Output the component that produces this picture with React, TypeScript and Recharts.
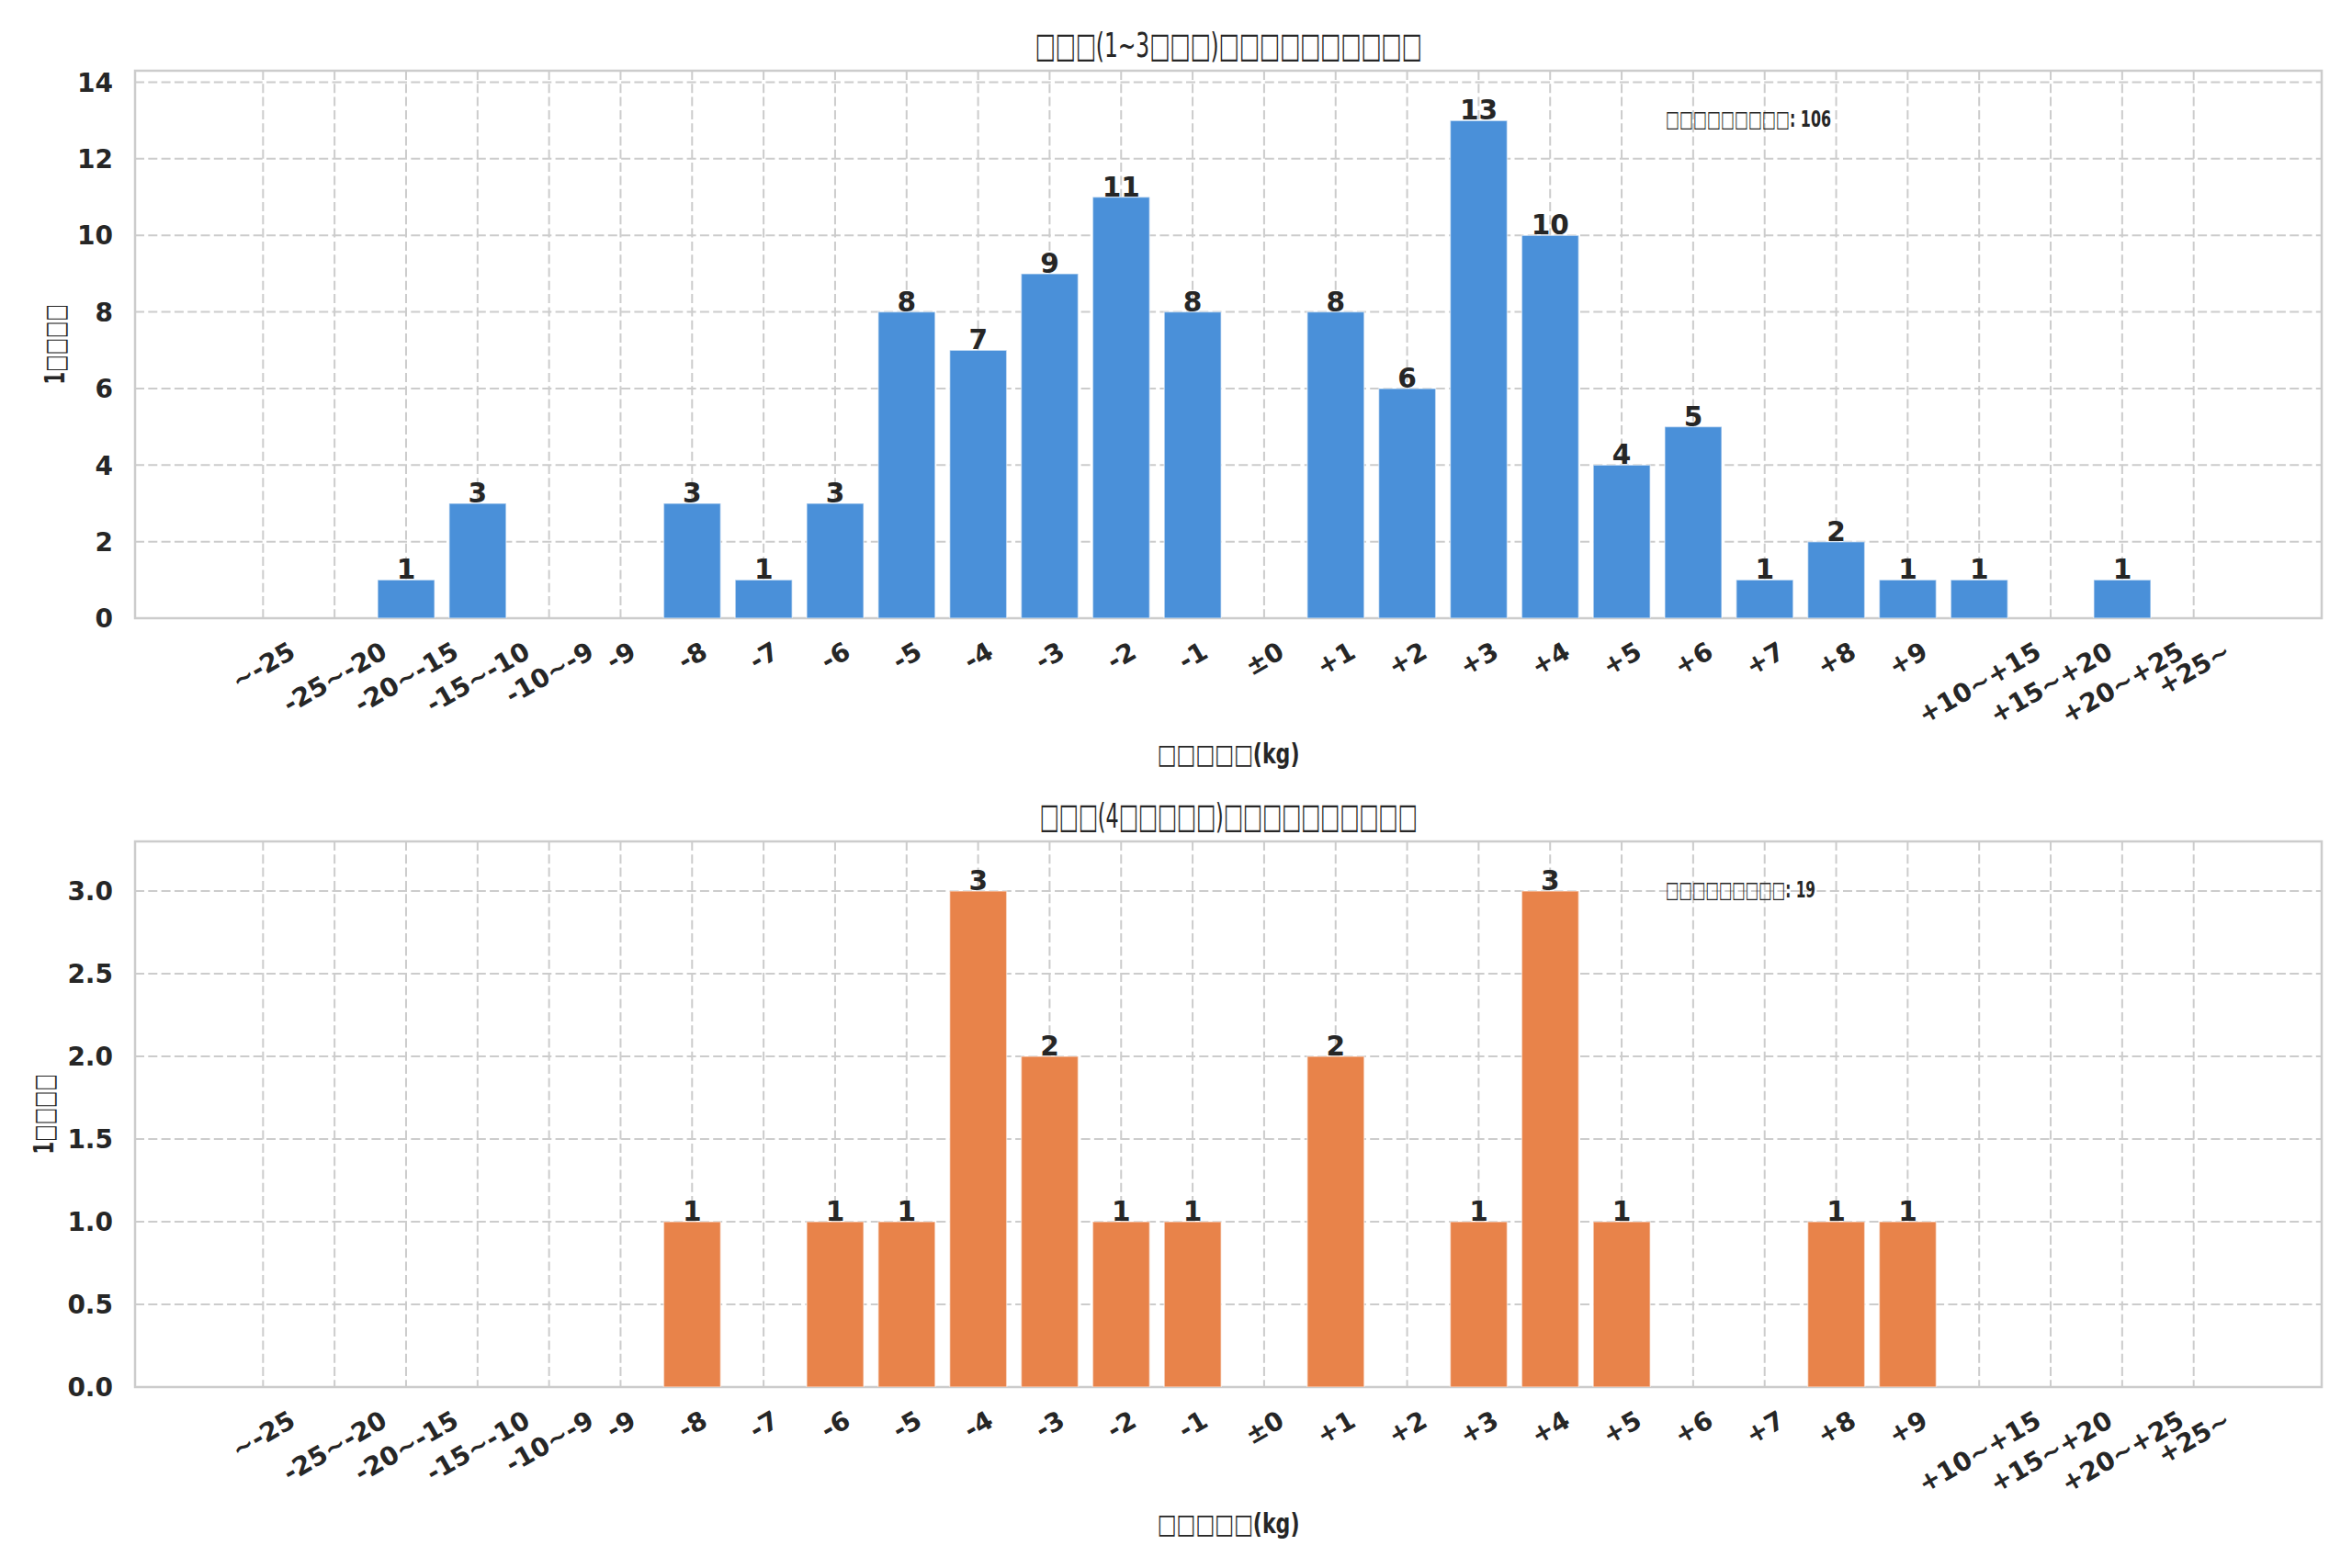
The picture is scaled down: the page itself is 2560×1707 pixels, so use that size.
import React from 'react';
import { BarChart, Bar, XAxis, YAxis, CartesianGrid, LabelList, ReferenceArea } from 'recharts';

const CATEGORIES = [
  '~-25', '-25~-20', '-20~-15', '-15~-10', '-10~-9', '-9', '-8', '-7', '-6', '-5', '-4', '-3', '-2', '-1',
  '±0', '+1', '+2', '+3', '+4', '+5', '+6', '+7', '+8', '+9', '+10~+15', '+15~+20', '+20~+25', '+25~',
];
const SHORT_COUNTS = [0, 0, 1, 3, 0, 0, 3, 1, 3, 8, 7, 9, 11, 8, 0, 8, 6, 13, 10, 4, 5, 1, 2, 1, 1, 0, 1, 0];
const LONG_COUNTS = [0, 0, 0, 0, 0, 0, 1, 0, 1, 1, 3, 2, 1, 1, 0, 2, 0, 1, 3, 1, 0, 0, 1, 1, 0, 0, 0, 0];
const SHORT_Y_TICKS = [0, 2, 4, 6, 8, 10, 12, 14];
const LONG_Y_TICKS = [0, 0.5, 1, 1.5, 2, 2.5, 3];

const TITLE_SHORT = '□□□(1~3□□□)□□□□□□□□□□';
const TITLE_LONG = '□□□(4□□□□□)□□□□□□□□□□';
const X_LABEL = '□□□□□(kg)';
const Y_LABEL = '1□□□□';
const TOTAL_LABEL = '□□□□□□□□□';

const FONT = "'DejaVu Sans', sans-serif";
const TEXT = '#262626';
const GRID = '#cccccc';
const BLUE = '#4a90d9';
const ORANGE = '#e8834a';
const X_DOMAIN: [number, number] = [-1.79, 28.79];
const X_TICKS = CATEGORIES.map((_, i) => i);

const CHAR_EM: Record<string, number> = { '-': 0.415, '~': 0.838, '+': 0.838, '±': 0.838 };
const widthEm = (s: string) => s.split('').reduce((a, c) => a + (CHAR_EM[c] ?? 0.696), 0);

const TICK_F = 28;

const XTick = (props: any) => {
  const { x, y, payload } = props;
  const label = CATEGORIES[payload.value];
  if (label === undefined) return null;
  const w = widthEm(label) * TICK_F;
  const cap = 0.73 * TICK_F;
  const H = w * 0.5 + cap * 0.866;
  const cy = y + 24 + H / 2;
  return (
    <text
      x={x}
      y={cy}
      dy={0.365 * TICK_F}
      transform={`rotate(-30 ${x} ${cy})`}
      textAnchor="middle"
      fontFamily={FONT}
      fontWeight="bold"
      fontSize={TICK_F}
      fill={TEXT}
    >
      {label}
    </text>
  );
};

const makeYTick = (fmt: (v: number) => string) => (props: any) => {
  const { x, y, payload } = props;
  return (
    <text x={x} y={y} dy={0.365 * TICK_F} textAnchor="end" fontFamily={FONT} fontWeight="bold" fontSize={TICK_F} fill={TEXT}>
      {fmt(payload.value)}
    </text>
  );
};

const BarLabel = (props: any) => {
  const { x, y, width, value } = props;
  if (!value) return null;
  return (
    <text x={x + width / 2} y={y - 1} textAnchor="middle" fontFamily={FONT} fontWeight="bold" fontSize={29.6} fill={TEXT}>
      {value}
    </text>
  );
};

type PanelProps = {
  counts: number[];
  color: string;
  yMax: number;
  yTicks: number[];
  yFmt: (v: number) => string;
  top: number;
  height: number;
  marginTop: number;
  plotH: number;
};

const Panel = ({ counts, color, yMax, yTicks, yFmt, top, height, marginTop, plotH }: PanelProps) => {
  const data = counts.map((c, i) => ({ x: i, label: CATEGORIES[i], count: c }));
  const YTick = makeYTick(yFmt);
  return (
    <div style={{ position: 'absolute', left: 0, top, width: 2560, height }}>
      <BarChart width={2560} height={height} data={data} margin={{ top: marginTop, right: 33, bottom: 0, left: 0 }}>
        <CartesianGrid stroke={GRID} strokeWidth={2} strokeDasharray="10 4.3" />
        <XAxis
          dataKey="x"
          type="number"
          domain={X_DOMAIN}
          ticks={X_TICKS}
          interval={0}
          allowDataOverflow
          tick={<XTick />}
          tickLine={false}
          axisLine={false}
          tickSize={0}
          tickMargin={0}
          height={height - marginTop - plotH}
        />
        <YAxis
          type="number"
          domain={[0, yMax]}
          ticks={yTicks}
          interval={0}
          allowDataOverflow
          tick={<YTick />}
          tickLine={false}
          axisLine={false}
          tickSize={0}
          tickMargin={24}
          width={147}
        />
        <ReferenceArea
          x1={X_DOMAIN[0]}
          x2={X_DOMAIN[1]}
          y1={0}
          y2={yMax}
          fill="none"
          fillOpacity={0}
          stroke={GRID}
          strokeWidth={2.5}
          ifOverflow="visible"
        />
        <Bar
          dataKey="count"
          fill={color}
          barSize={62}
          stroke="#ffffff"
          strokeOpacity={0.5}
          strokeWidth={1.5}
          isAnimationActive={false}
        >
          <LabelList dataKey="count" content={BarLabel} />
        </Bar>
      </BarChart>
    </div>
  );
};

const sum = (a: number[]) => a.reduce((s, v) => s + v, 0);

export default function App() {
  return (
    <div style={{ position: 'absolute', left: 0, top: 0, width: 2560, height: 1707, background: '#ffffff', overflow: 'hidden' }}>
      <Panel
        counts={SHORT_COUNTS}
        color={BLUE}
        yMax={14.3}
        yTicks={SHORT_Y_TICKS}
        yFmt={(v) => String(v)}
        top={0}
        height={853}
        marginTop={77}
        plotH={596}
      />
      <Panel
        counts={LONG_COUNTS}
        color={ORANGE}
        yMax={3.3}
        yTicks={LONG_Y_TICKS}
        yFmt={(v) => v.toFixed(1)}
        top={853}
        height={854}
        marginTop={63}
        plotH={594}
      />
      <svg
        width={2560}
        height={1707}
        style={{ position: 'absolute', left: 0, top: 0, pointerEvents: 'none' }}
        fontFamily={FONT}
      >
        <text x={1337} y={62} textAnchor="middle" fontSize={38} fill={TEXT} textLength={421} lengthAdjust="spacingAndGlyphs">
          {TITLE_SHORT}
        </text>
        <text x={1337} y={901} textAnchor="middle" fontSize={38} fill={TEXT} textLength={411} lengthAdjust="spacingAndGlyphs">
          {TITLE_LONG}
        </text>
        <text x={1337} y={831} textAnchor="middle" fontSize={29.6} fontWeight="bold" fill={TEXT} textLength={155} lengthAdjust="spacingAndGlyphs">
          {X_LABEL}
        </text>
        <text x={1337} y={1669} textAnchor="middle" fontSize={29.6} fontWeight="bold" fill={TEXT} textLength={155} lengthAdjust="spacingAndGlyphs">
          {X_LABEL}
        </text>
        <text x={70} y={375} transform="rotate(-90 70 375)" textAnchor="middle" fontSize={29.6} fontWeight="bold" fill={TEXT} textLength={87} lengthAdjust="spacingAndGlyphs">
          {Y_LABEL}
        </text>
        <text x={57.5} y={1213} transform="rotate(-90 57.5 1213)" textAnchor="middle" fontSize={29.6} fontWeight="bold" fill={TEXT} textLength={87} lengthAdjust="spacingAndGlyphs">
          {Y_LABEL}
        </text>
        <text x={1813} y={137.7} fontSize={24.7} fontWeight="bold" fill={TEXT} textLength={180} lengthAdjust="spacingAndGlyphs">
          {`${TOTAL_LABEL}: ${sum(SHORT_COUNTS)}`}
        </text>
        <text x={1813} y={976.5} fontSize={24.7} fontWeight="bold" fill={TEXT} textLength={163} lengthAdjust="spacingAndGlyphs">
          {`${TOTAL_LABEL}: ${sum(LONG_COUNTS)}`}
        </text>
      </svg>
    </div>
  );
}
